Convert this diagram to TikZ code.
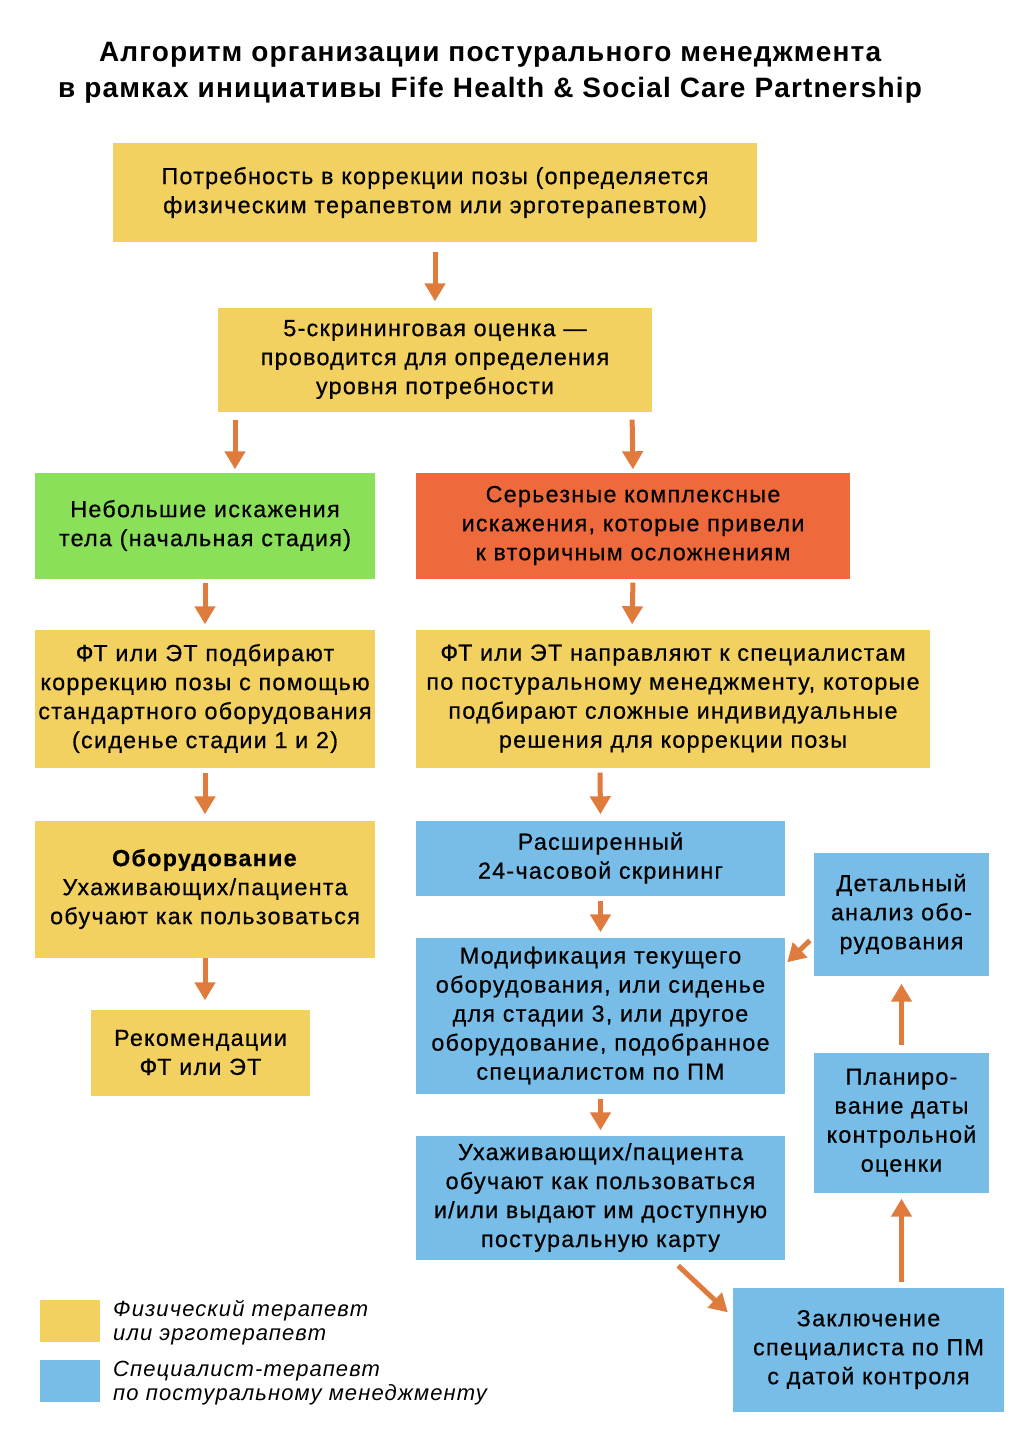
\documentclass[tikz,border=0pt]{standalone}
\usepackage{fontspec}
\setmainfont{Liberation Sans}[LetterSpace=5.5, FakeBold=0.6]
\newfontfamily\titlef{Liberation Sans}[LetterSpace=4.2]
\newfontfamily\legf{Liberation Sans}[LetterSpace=5]
\usetikzlibrary{arrows.meta}
\definecolor{yel}{HTML}{F2D160}
\definecolor{grn}{HTML}{8BE05A}
\definecolor{red}{HTML}{EE6A3C}
\definecolor{blu}{HTML}{77BDE8}
\definecolor{arc}{HTML}{E07B3E}
\tikzset{
  box/.style={inner sep=0pt, align=center, font=\fontsize{23.3}{29}\selectfont},
  arr/.style={draw=arc, line width=5pt, -{Triangle[width=20pt,length=18pt]}, arc},
  legtxt/.style={anchor=west, align=left, inner sep=0pt, font=\legf\fontsize{22}{24}\selectfont\itshape},
}
\begin{document}
\begin{tikzpicture}[x=1pt,y=-1pt]
\useasboundingbox (0,0) rectangle (1024,1450);
\node[font=\titlef\fontsize{28}{36}\selectfont\bfseries, align=center] (title) at (490,73) {Алгоритм организации постурального менеджмента\\в рамках инициативы Fife Health \& Social Care Partnership};

\node[box, fill=yel, minimum width=644pt, minimum height=98pt] (n1) at (435,192.5) {Потребность в коррекции позы (определяется\\физическим терапевтом или эрготерапевтом)};
\node[box, fill=yel, minimum width=434pt, minimum height=104pt] (n2) at (435,359.5) {5-скрининговая оценка —\\проводится для определения\\уровня потребности};
\node[box, fill=grn, minimum width=340pt, minimum height=106pt] (n3) at (205,525.5) {Небольшие искажения\\тела (начальная стадия)};
\node[box, fill=red, minimum width=434pt, minimum height=106pt] (n4) at (633,525.5) {Серьезные комплексные\\искажения, которые привели\\к вторичным осложнениям};
\node[box, fill=yel, minimum width=340pt, minimum height=138pt] (n5) at (205,698.5) {ФТ или ЭТ подбирают\\коррекцию позы с помощью\\стандартного оборудования\\(сиденье стадии 1 и 2)};
\node[box, fill=yel, minimum width=514pt, minimum height=138pt] (n6) at (673,698.5) {ФТ или ЭТ направляют к специалистам\\по постуральному менеджменту, которые\\подбирают сложные индивидуальные\\решения для коррекции позы};
\node[box, fill=yel, minimum width=340pt, minimum height=137pt] (n7) at (205,889) {\textbf{Оборудование}\\Ухаживающих/пациента\\обучают как пользоваться};
\node[box, fill=yel, minimum width=219pt, minimum height=86pt] (n8) at (200.5,1052.5) {Рекомендации\\ФТ или ЭТ};
\node[box, fill=blu, minimum width=369pt, minimum height=75pt] (n9) at (600.5,858) {Расширенный\\24-часовой скрининг};
\node[box, fill=blu, minimum width=369pt, minimum height=156pt] (n10) at (600.5,1015.5) {Модификация текущего\\оборудования, или сиденье\\для стадии 3, или другое\\оборудование, подобранное\\специалистом по ПМ};
\node[box, fill=blu, minimum width=369pt, minimum height=124pt] (n11) at (600.5,1197.5) {Ухаживающих/пациента\\обучают как пользоваться\\и/или выдают им доступную\\постуральную карту};
\node[box, fill=blu, minimum width=175pt, minimum height=123pt] (n12) at (901.5,914) {Детальный\\анализ обо-\\рудования};
\node[box, fill=blu, minimum width=175pt, minimum height=140pt] (n13) at (901.5,1122.5) {Планиро-\\вание даты\\контрольной\\оценки};
\node[box, fill=blu, minimum width=271pt, minimum height=124pt] (n14) at (868.5,1349.5) {Заключение\\специалиста по ПМ\\с датой контроля};

% legend
\node[fill=yel, minimum width=60pt, minimum height=42pt, inner sep=0pt] (l1) at (70,1321) {};
\node[fill=blu, minimum width=60pt, minimum height=42pt, inner sep=0pt] (l2) at (70,1381) {};
\node[legtxt] (t1) at (113,1323) {Физический терапевт\\или эрготерапевт};
\node[legtxt] (t2) at (113,1383) {Специалист-терапевт\\по постуральному менеджменту};

% arrows
\draw[arr, shorten <=10pt, shorten >=6pt] (n1.south) -- (n2.north);
\draw[arr, shorten <=8pt, shorten >=3pt] ([xshift=-200pt]n2.south) -- ([xshift=30pt]n3.north);
\draw[arr, shorten <=8pt, shorten >=3pt] ([xshift=197pt]n2.south) -- (n4.north);
\draw[arr, shorten <=4pt, shorten >=5pt] (n3.south) -- (n5.north);
\draw[arr, shorten <=4pt, shorten >=5pt] (n4.south) -- ([xshift=-41pt]n6.north);
\draw[arr, shorten <=5pt, shorten >=6pt] (n5.south) -- (n7.north);
\draw[arr, shorten <=5pt, shorten >=6pt] ([xshift=-73pt]n6.south) -- (n9.north);
\draw[arr, shorten <=0pt, shorten >=9pt] (n7.south) -- ([xshift=4.5pt]n8.north);
\draw[arr, shorten <=5pt, shorten >=5pt] (n9.south) -- (n10.north);
\draw[arr, shorten <=5pt, shorten >=5pt] (n10.south) -- (n11.north);
\draw[arr] ([xshift=-107pt,yshift=-6pt]n11.south east) -- ([xshift=-5pt,yshift=-25pt]n14.north west);
\draw[arr, shorten <=5pt, shorten >=6pt] (n14.north -| n13.south) -- (n13.south);
\draw[arr, shorten <=7pt, shorten >=8pt] (n13.north) -- (n12.south);
\draw[arr] ([xshift=-4pt,yshift=-26.5pt]n12.west) -- ([xshift=2pt,yshift=-25pt]n10.north east);
\end{tikzpicture}
\end{document}
